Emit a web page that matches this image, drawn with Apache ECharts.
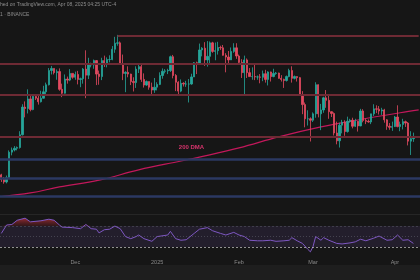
<!DOCTYPE html>
<html><head><meta charset="utf-8">
<script src="https://cdn.jsdelivr.net/npm/echarts@6/dist/echarts.min.js"></script>
<style>html,body{margin:0;padding:0;background:#161616;}#c{width:420px;height:280px;}</style>
</head><body><div id="c"></div>
<script>
// ---- data ----
const startDate = '2024-11-03';
const dayCount = 159;
// daily candles [open, high, low, close] (thousands)
const ohlc = [
[68.9,69.2,66.9,67.6],[67.6,68.3,66.4,66.9],[66.9,68.7,66.5,68.1],[68.1,75.8,67.9,75.3],[75.3,76.6,74.4,75.9],
[75.9,77.0,75.5,76.4],[76.4,76.9,75.8,76.6],[76.6,81.2,76.3,80.2],[80.2,88.8,80.0,88.0],[88.0,89.6,85.1,87.6],
[87.6,93.0,86.2,90.3],[90.3,91.6,86.8,87.3],[87.3,91.6,87.1,91.0],[91.0,91.6,90.0,90.5],[90.5,91.3,88.7,89.5],
[89.5,92.6,89.3,90.5],[90.5,94.0,90.4,92.3],[92.3,94.9,91.5,94.3],[94.3,99.0,94.1,98.3],[98.3,99.6,97.2,98.9],
[98.9,98.9,97.2,97.7],[97.7,98.6,95.7,98.0],[98.0,98.9,92.6,93.0],[93.0,94.6,90.8,91.9],[91.9,97.2,91.8,95.9],
[95.9,96.6,94.6,95.6],[95.6,98.7,95.3,97.5],[97.5,97.5,96.0,96.4],[96.4,98.0,95.7,97.2],[97.2,98.2,94.4,95.8],
[95.8,96.3,93.6,96.0],[96.0,99.0,94.6,98.7],[98.7,104.0,90.5,97.0],[97.0,101.9,95.9,99.9],[99.9,100.5,99.2,99.9],
[99.9,101.4,98.8,101.1],[101.1,101.2,94.2,97.3],[97.3,98.3,94.3,96.6],[96.6,101.9,95.6,101.1],[101.1,102.5,99.3,100.0],
[100.0,102.0,99.2,101.4],[101.4,102.6,100.6,101.4],[101.4,105.2,101.2,104.3],[104.3,107.8,103.3,106.0],[106.0,108.35,105.3,106.1],
[106.1,106.5,100.0,100.2],[100.2,102.8,95.6,97.5],[97.5,98.1,92.2,97.8],[97.8,99.5,96.4,97.3],[97.3,97.4,94.2,95.2],
[95.2,96.4,92.4,94.9],[94.9,99.5,93.4,98.7],[98.7,99.9,97.6,99.4],[99.4,99.9,95.1,95.8],[95.8,97.5,93.5,94.2],
[94.2,95.5,94.0,95.2],[95.2,95.2,92.9,93.6],[93.6,94.9,91.3,92.8],[92.8,96.2,92.0,93.6],[93.6,95.0,92.7,94.4],
[94.4,97.8,94.2,96.9],[96.9,98.9,96.0,98.1],[98.1,98.7,97.5,98.2],[98.2,98.8,97.3,98.3],[98.3,102.5,97.9,102.2],
[102.2,102.7,96.1,96.9],[96.9,97.3,92.5,95.0],[95.0,95.3,91.2,92.5],[92.5,95.8,92.2,94.7],[94.7,95.0,93.8,94.5],
[94.5,95.4,93.7,94.5],[94.5,95.9,89.3,94.5],[94.5,97.4,94.3,96.5],[96.5,100.7,96.5,100.5],[100.5,100.8,97.3,100.0],
[100.0,105.9,99.9,104.1],[104.1,104.9,102.3,104.6],[104.6,106.3,99.6,101.3],[101.3,106.6,99.4,102.3],[102.3,106.5,100.1,106.1],
[106.1,106.4,103.3,103.7],[103.7,106.2,101.2,103.9],[103.9,106.4,102.8,104.8],[104.8,105.3,104.1,104.7],[104.7,105.5,102.5,102.6],
[102.6,103.2,97.8,102.1],[102.1,103.8,100.3,101.3],[101.3,104.8,101.3,103.7],[103.7,106.0,103.3,104.7],[104.7,106.0,101.6,102.4],
[102.4,102.8,100.3,100.6],[100.6,101.5,96.2,97.7],[97.7,102.5,91.2,101.3],[101.3,101.7,96.2,97.7],[97.7,99.0,96.6,96.6],
[96.6,99.2,95.7,96.6],[96.6,100.1,95.6,96.5],[96.5,96.9,95.7,96.5],[96.5,97.3,94.7,96.4],[96.4,98.3,95.3,97.4],
[97.4,98.5,94.9,95.8],[95.8,98.1,94.1,97.9],[97.9,98.0,95.2,96.6],[96.6,98.8,96.4,97.5],[97.5,97.9,97.1,97.6],
[97.6,97.7,96.0,96.1],[96.1,97.0,95.2,95.8],[95.8,96.0,93.4,95.5],[95.5,96.9,95.2,96.6],[96.6,98.8,96.4,98.3],
[98.3,99.5,94.9,96.1],[96.1,96.9,95.8,96.6],[96.6,96.7,95.2,96.3],[96.3,96.5,91.2,91.5],[91.5,92.5,86.0,88.7],
[88.7,89.3,82.3,84.7],[84.7,87.1,82.8,84.7],[84.7,85.1,78.3,84.3],[84.3,86.5,83.8,86.1],[86.1,95.0,85.0,94.3],
[94.3,94.4,85.1,86.1],[86.1,88.9,81.5,87.2],[87.2,90.9,86.4,90.6],[90.6,92.8,87.8,89.9],[89.9,91.2,84.7,86.7],
[86.7,86.8,85.2,86.2],[86.2,86.5,80.0,80.7],[80.7,83.9,77.5,78.5],[78.5,83.6,76.6,82.9],[82.9,84.4,80.6,83.7],
[83.7,84.3,79.9,81.1],[81.1,85.3,80.8,84.0],[84.0,84.7,83.6,84.3],[84.3,85.0,82.0,82.6],[82.6,84.7,82.4,84.0],
[84.0,84.0,81.1,82.7],[82.7,87.5,82.6,86.9],[86.9,87.4,83.7,84.2],[84.2,84.8,83.2,84.0],[84.0,84.5,83.6,83.8],
[83.8,86.1,83.2,86.1],[86.1,88.8,85.5,87.5],[87.5,88.5,86.3,87.4],[87.4,88.3,85.9,86.9],[86.9,87.8,85.8,87.2],
[87.2,87.5,83.6,84.4],[84.4,84.6,81.6,82.6],[82.6,83.5,81.6,82.3],[82.3,83.9,81.3,82.5],[82.5,85.5,82.4,85.2],
[85.2,88.5,82.3,82.5],[82.5,83.9,81.2,83.1],[83.1,84.7,81.7,83.9],[83.9,84.2,82.4,83.5],[83.5,83.8,77.2,78.4],
[78.4,81.2,74.5,79.1],[79.1,80.8,78.2,79.6]
];
// 200-day moving average, [day index, value]
const dmaPoints = [[0,62.8],[11,63.8],[22,65.5],[37,67.4],[52,70.3],[68,72.8],[75,73.9],[90,76.5],[105,79.6],[121,82.4],[136,84.5],[151,86.4],[158,87.2]];
// RSI, [day index, value]
const rsiPoints = [[0,56],[2,72],[4,73],[6,81],[9,85],[11,78],[15,80],[18,83],[20,81],[22,72],[23,68],[27,67],[30,65],[32,73],[34,65],[36,64],[37,57],[39,63],[41,64],[43,70],[45,65],[47,50],[49,46],[51,50],[52,53],[54,46],[57,41],[59,50],[63,53],[64,60],[66,46],[68,43],[70,44],[73,56],[75,64],[78,67],[80,61],[83,56],[85,53],[88,58],[90,53],[92,50],[94,43],[97,42],[99,42],[102,43],[104,41],[107,42],[109,43],[110,48],[112,42],[114,37],[116,26],[117,21],[118,31],[119,50],[121,43],[122,48],[124,43],[127,37],[129,36],[132,38],[134,40],[136,45],[138,42],[141,47],[143,51],[146,43],[148,44],[150,53],[152,43],[154,44],[156,37]];
const athLevel = 108.2, athStartIdx = 44;
const redLevels = [100.25, 91.5, 79.5];
const blueLevels = [73.4, 67.9, 63.0];
const rsiBands = [70, 50, 30];
const tickIdx = [28, 59, 90, 118, 149];
const tickText = ['Dec', '2025', 'Feb', 'Mar', 'Apr'];
const headerText = 'hed on TradingView.com, Apr 08, 2025 04:25 UTC-4';
const symbolText = '1 · BINANCE';
const dmaLabel = '200 DMA';
const dmaLabelAt = [72, 76.6];

// ---- build chart ----
const categories = [];
const d0 = new Date(startDate + 'T00:00:00Z');
for (let i = 0; i < dayCount; i++) categories.push(new Date(d0.getTime() + i * 864e5).toISOString().slice(0, 10));
const candles = ohlc.map(r => [r[0], r[3], r[2], r[1]]);
const UP = '#26a69a', DOWN = '#e34a5f', RED = '#6e2a34', BLUE = '#2b3862';

const chart = echarts.init(document.getElementById('c'), null, {renderer: 'canvas'});
chart.setOption({
  backgroundColor: '#161616',
  animation: false,
  title: {text: headerText, subtext: symbolText, left: 0, top: 2, padding: 0, itemGap: 5,
    textStyle: {fontSize: 5, color: '#8e8e8e', fontWeight: 'normal', fontFamily: 'Liberation Sans'},
    subtextStyle: {fontSize: 5, color: '#8e8e8e', fontFamily: 'Liberation Sans'}},
  graphic: [
    {type: 'rect', shape: {x: 0, y: 265, width: 420, height: 15}, style: {fill: '#1e1e1e'}, z: -1},
    {type: 'line', shape: {x1: 0, y1: 214.5, x2: 420, y2: 214.5}, style: {stroke: '#262626', lineWidth: 1}}
  ],
  grid: [
    {left: 0, right: 0, top: 12, height: 193},
    {left: 0, right: 0, top: 212, height: 43}
  ],
  xAxis: [
    {type: 'category', data: categories, gridIndex: 0, show: false},
    {type: 'category', data: categories, gridIndex: 1,
      axisLine: {show: false}, axisTick: {show: false}, splitLine: {show: false},
      axisLabel: {interval: (i) => tickIdx.includes(i), formatter: (v, i) => tickText[tickIdx.indexOf(i)],
        color: '#8a8a8a', fontSize: 5.5, margin: 4, fontFamily: 'Liberation Sans'}}
  ],
  yAxis: [
    {gridIndex: 0, min: 60.4, max: 114.8, show: false},
    {gridIndex: 1, min: 15, max: 96.7, show: false}
  ],
  series: [
    {type: 'line', xAxisIndex: 0, yAxisIndex: 0, data: [], z: 1, silent: true,
      markLine: {silent: true, symbol: 'none', label: {show: false},
        data: [
          [{coord: [athStartIdx, athLevel]}, {coord: [dayCount - 1, athLevel]}],
          ...redLevels.map(v => ({yAxis: v})),
          ...blueLevels.map(v => ({yAxis: v, lineStyle: {color: BLUE, width: 2.5, type: 'solid'}}))
        ],
        lineStyle: {color: RED, width: 2, type: 'solid'}}},
    {type: 'line', xAxisIndex: 0, yAxisIndex: 0, data: dmaPoints, smooth: 0.4, showSymbol: false, z: 2,
      lineStyle: {color: '#c2185b', width: 1.2},
      markPoint: {symbol: 'circle', symbolSize: 1, itemStyle: {color: 'rgba(0,0,0,0)'},
        data: [{coord: dmaLabelAt, label: {show: true, position: 'inside', formatter: dmaLabel, color: '#d6336c', fontSize: 6, fontWeight: 'bold', fontFamily: 'Liberation Sans'}}]}},
    {type: 'candlestick', xAxisIndex: 0, yAxisIndex: 0, data: candles, barWidth: 1.8, z: 3,
      itemStyle: {color: UP, color0: DOWN, borderColor: UP, borderColor0: DOWN, borderWidth: 0.8}},
    {type: 'line', xAxisIndex: 1, yAxisIndex: 1, data: rsiPoints.map(p => [p[0], 70]), stack: 'ob', showSymbol: false,
      lineStyle: {opacity: 0}, silent: true, z: 1},
    {type: 'line', xAxisIndex: 1, yAxisIndex: 1, data: rsiPoints.map(p => [p[0], Math.max(p[1] - 70, 0)]), stack: 'ob', showSymbol: false,
      lineStyle: {opacity: 0}, silent: true, z: 1,
      areaStyle: {color: new echarts.graphic.LinearGradient(0, 0, 0, 1, [{offset: 0, color: 'rgba(230,60,70,0.9)'}, {offset: 1, color: 'rgba(150,30,40,0.3)'}])}},
    {type: 'line', xAxisIndex: 1, yAxisIndex: 1, data: rsiPoints, showSymbol: false, z: 2,
      lineStyle: {color: '#7e57c2', width: 1},
      markArea: {silent: true, itemStyle: {color: 'rgba(126,87,194,0.13)'}, data: [[{yAxis: rsiBands[2]}, {yAxis: rsiBands[0]}]]},
      markLine: {silent: true, symbol: 'none', label: {show: false},
        data: [
          {yAxis: rsiBands[0], lineStyle: {color: 'rgba(120,123,134,0.35)', type: [2, 2], width: 1}},
          {yAxis: rsiBands[1], lineStyle: {color: 'rgba(120,123,134,0.4)', type: [1, 2], width: 1}},
          {yAxis: rsiBands[2], lineStyle: {color: 'rgba(200,200,200,0.7)', type: [2, 2], width: 1}}
        ]}}
  ]
});
</script></body></html>
